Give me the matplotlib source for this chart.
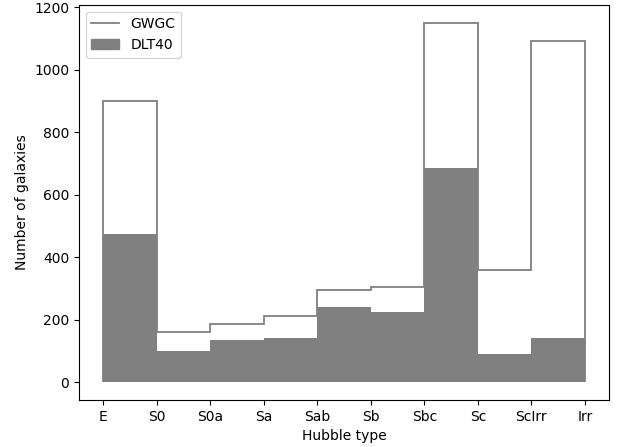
import matplotlib
matplotlib.use("Agg")
import matplotlib.pyplot as plt
import numpy as np
from matplotlib.lines import Line2D
from matplotlib.patches import Patch

types = ["E", "S0", "S0a", "Sa", "Sab", "Sb", "Sbc", "Sc", "ScIrr", "Irr"]
gwgc = [900, 160, 185, 210, 295, 305, 1150, 360, 1090]
dlt40 = [475, 100, 135, 140, 240, 225, 685, 90, 140]

edges = np.arange(len(types))
centers = edges[:-1] + 0.5

fig = plt.figure(figsize=(6.24, 4.47), dpi=100)
ax = fig.add_axes([0.1266, 0.105, 0.8494, 0.8845])

ax.hist(centers, bins=edges, weights=dlt40, histtype="stepfilled",
        color="#808080", label="DLT40", zorder=1)
ax.hist(centers, bins=edges, weights=gwgc, histtype="step",
        color="#808080", linewidth=1.3, label="GWGC", zorder=2)

ax.set_xlim(-0.45, 9.45)
ax.set_ylim(-57.5, 1207.5)
ax.set_xticks(edges)
ax.set_xticklabels(types)
ax.set_xlabel("Hubble type")
ax.set_ylabel("Number of galaxies")

ax.legend([Line2D([], [], color="#808080", lw=1.3), Patch(color="#808080")],
          ["GWGC", "DLT40"], loc="upper left")

fig.savefig("out.png", dpi=100)
